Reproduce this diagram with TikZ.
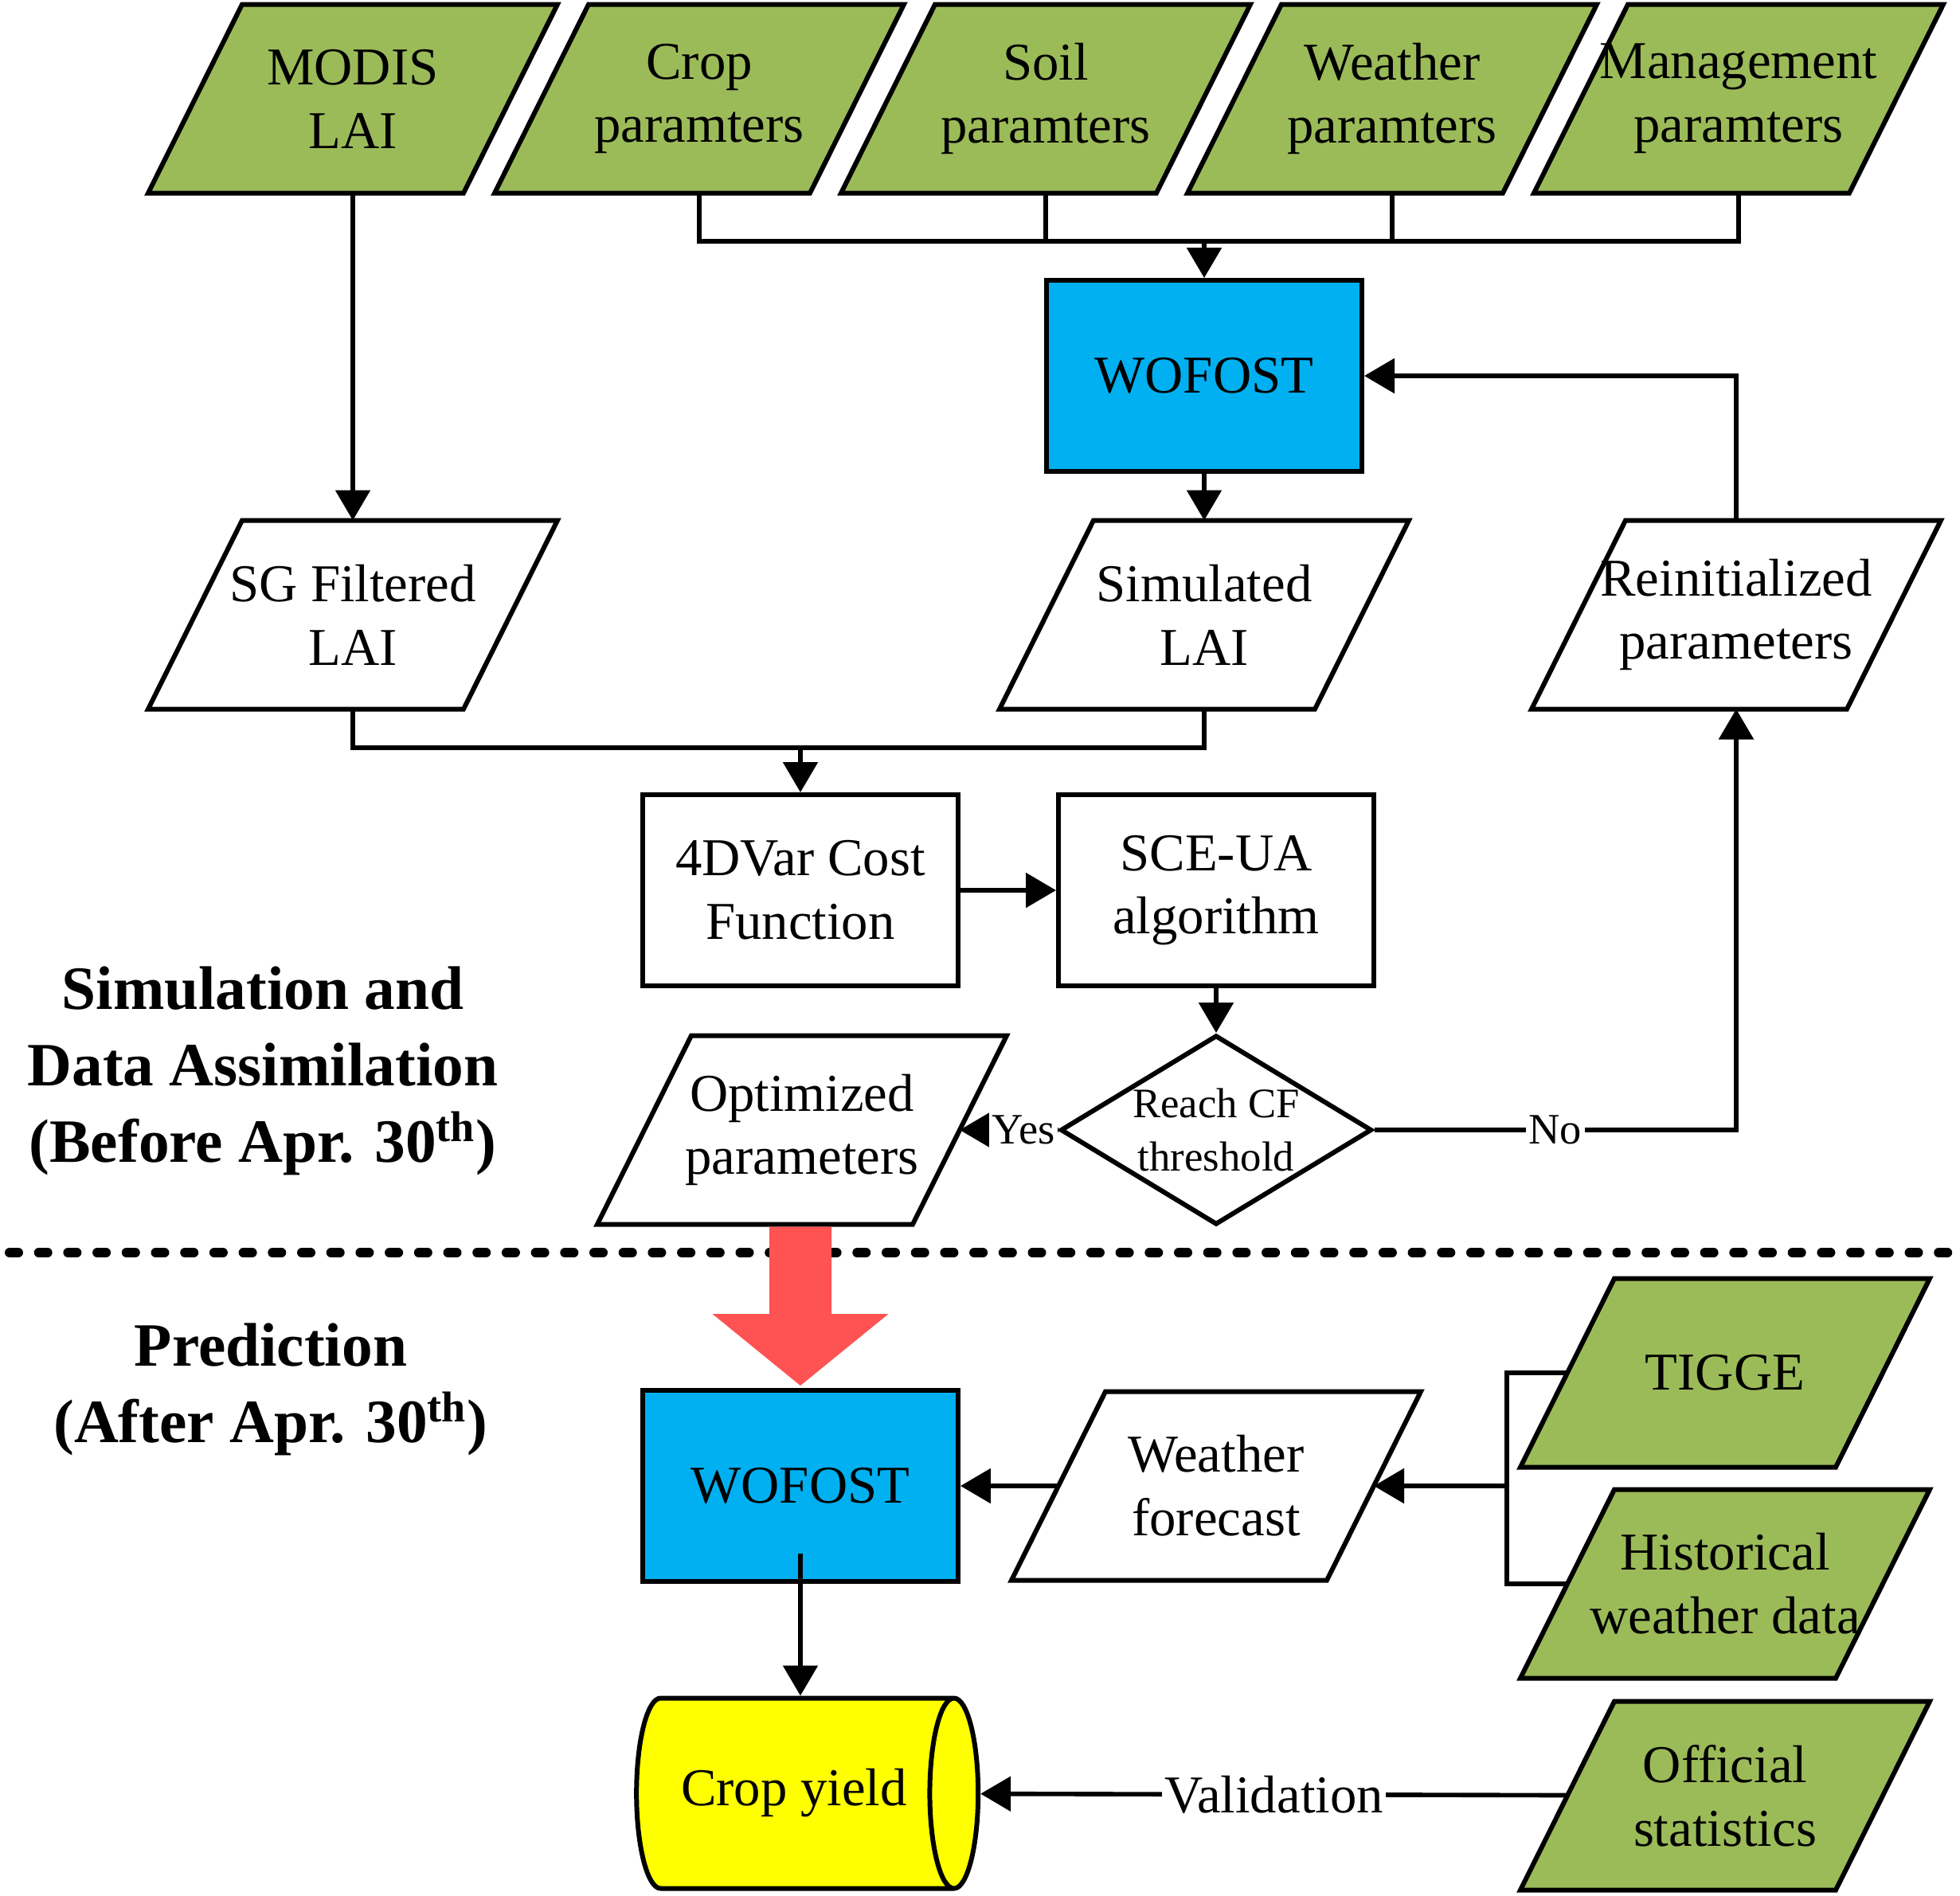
\documentclass[tikz,border=0pt]{standalone}
\usepackage{fontspec}
\setmainfont{Liberation Serif}
\usepackage{tikz}
\usetikzlibrary{calc,shapes.geometric,arrows.meta,backgrounds}
\definecolor{inputgreen}{RGB}{155,187,89}
\definecolor{wofblue}{RGB}{0,176,240}
\definecolor{arrowred}{RGB}{255,82,82}
\definecolor{yieldyellow}{RGB}{255,255,0}
\tikzset{
  shapebase/.style={draw,line width=1.7pt,align=center,inner sep=0pt,font=\fontsize{19}{22.7}\selectfont},
  para/.style={shapebase,draw=none,rectangle,outer sep=0pt,minimum width=3.96cm,minimum height=2.37cm},
  parashape/.style={draw,line width=1.7pt},
  procbox/.style={shapebase,rectangle,minimum width=3.96cm,minimum height=2.4cm},
  model/.style={procbox,fill=wofblue},
  link/.style={line width=1.6pt},
  lbl/.style={fill=white,inner sep=1pt,font=\fontsize{15.5}{18}\selectfont},
  stagelabel/.style={align=center,font=\bfseries\fontsize{22}{27.3}\selectfont}
}
\begin{document}
\begin{tikzpicture}[>={Triangle[length=0.38cm,width=0.43cm]}]
\useasboundingbox (0,0) rectangle (24.61,-23.80);
\draw [line width=0.12cm,line cap=round,dash pattern=on 0.11cm off 0.257cm] (0.12,-15.73)--(24.55,-15.73);
% simulation and assimilation part
\node [para] (modis) at (4.43,-1.24) {MODIS\\LAI};
\node [para] (crop) at (8.78,-1.24) {Crop\\paramters};
\node [para] (soil) at (13.13,-1.24) {Soil\\paramters};
\node [para] (weather) at (17.48,-1.24) {Weather\\paramters};
\node [para] (manage) at (21.83,-1.24) {Management\\paramters};
\node [model] (wof1) at (15.12,-4.72) {WOFOST};
\node [para] (sg) at (4.43,-7.72) {SG Filtered\\LAI};
\node [para] (sim) at (15.12,-7.72) {Simulated\\LAI};
\node [para] (reinit) at (21.80,-7.72) {Reinitialized\\parameters};
\node [procbox] (cost) at (10.05,-11.18) {4DVar Cost\\Function};
\node [procbox] (sce) at (15.27,-11.18) {SCE-UA\\algorithm};
\node [shapebase,diamond,aspect=1.64,minimum width=3.91cm,minimum height=2.38cm,font=\fontsize{15}{19}\selectfont] (reach) at (15.27,-14.19) {Reach CF\\threshold};
\node [para] (opt) at (10.07,-14.19) {Optimized\\parameters};
\node [stagelabel] (before) at (3.30,-13.45) {Simulation and\\Data Assimilation\\(Before Apr. 30\textsuperscript{th})};
% prediction part
\node [stagelabel] (after) at (3.40,-17.45) {Prediction\\(After Apr. 30\textsuperscript{th})};
\node [model] (wof2) at (10.05,-18.66) {WOFOST};
\node [para] (fcst) at (15.27,-18.66) {Weather\\forecast};
\node [para] (tigge) at (21.66,-17.24) {TIGGE};
\node [para] (hist) at (21.66,-19.89) {Historical\\weather data};
\node [para] (offic) at (21.66,-22.55) {Official\\statistics};
\node [shapebase,cylinder,aspect=1.0,minimum width=2.39cm,minimum height=4.29cm,fill=yieldyellow] (yield) at (9.97,-22.52) {Crop yield};
% the slanted boxes behind the texts
\begin{scope}[on background layer]
\foreach \n in {modis,crop,soil,weather,manage,tigge,hist,offic}
  \draw [parashape,fill=inputgreen] ($(\n.north west)+(0.59,0)$)--($(\n.north east)+(0.59,0)$)--($(\n.south east)+(-0.59,0)$)--($(\n.south west)+(-0.59,0)$)--cycle;
\foreach \n in {sg,sim,reinit,opt,fcst}
  \draw [parashape,fill=white] ($(\n.north west)+(0.59,0)$)--($(\n.north east)+(0.59,0)$)--($(\n.south east)+(-0.59,0)$)--($(\n.south west)+(-0.59,0)$)--cycle;
\end{scope}
\coordinate (topbus) at (15.12,-3.03);
\coordinate (midbus) at (10.05,-9.39);
\coordinate (fork) at (18.92,-18.66);
\draw [link] (crop)--(crop |- topbus)--(manage |- topbus)--(manage);
\draw [link] (soil)--(soil |- topbus);
\draw [link] (weather)--(weather |- topbus);
\draw [link,->] (topbus)--(wof1);
\draw [link,->] (modis)--(sg);
\draw [link,->] (wof1)--(sim);
\draw [link] (sg) |- (midbus);
\draw [link] (sim) |- (midbus);
\draw [link,->] (midbus)--(cost);
\draw [link,->] (cost)--(sce);
\draw [link,->] (sce)--(reach);
\draw [link,->] (reach)-- node [lbl,pos=0.35] {Yes} (opt);
\draw [link,->] (reach)-- node [lbl] {No} (reach -| reinit)--(reinit);
\draw [link,->] (reinit) |- (wof1);
% the big red arrow:
\fill [arrowred] ($(wof2.north |- opt.south)+(-0.39,-0.03)$)--($(wof2.north |- opt.south)+(0.39,-0.03)$)--($(wof2.north)+(0.39,0.93)$)--++(0.715,0)--($(wof2.north)+(0,0.03)$)--($(wof2.north)+(-1.105,0.93)$)--++(0.715,0)--cycle;
\draw [link] (tigge)--(tigge -| fork)--(hist -| fork)--(hist);
\draw [link,->] (fork)--(fcst);
\draw [link,->] (fcst)--(wof2);
\draw [link,->] ($(wof2.south)+(0,0.38)$)--(wof2 |- yield.north);
\draw [link,->] (offic)-- node [lbl,font=\fontsize{19}{22.7}\selectfont] {Validation} (yield);
\end{tikzpicture}
\end{document}
